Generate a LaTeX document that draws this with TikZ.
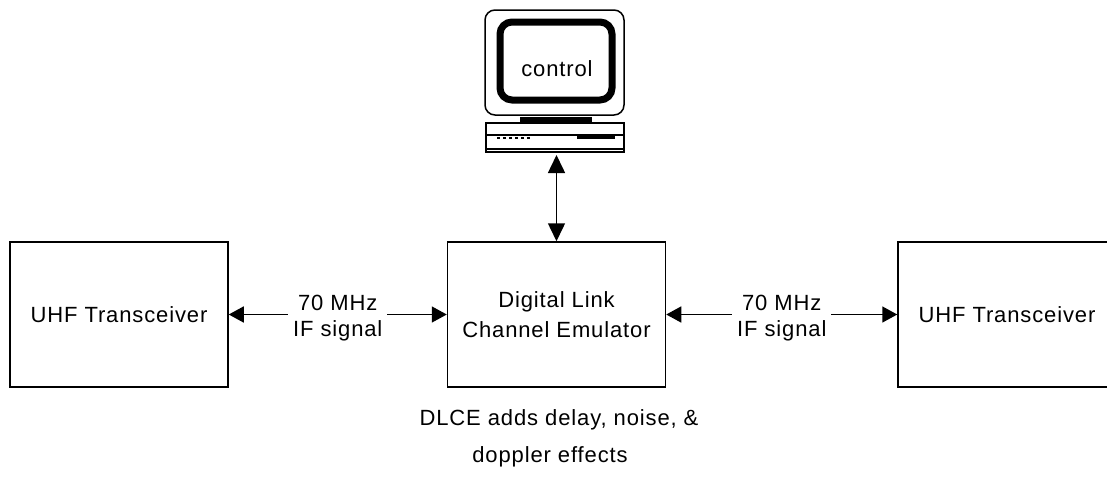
\documentclass[tikz,border=0pt]{standalone}
\usepackage{fontspec}
\setmainfont{Liberation Sans}[LetterSpace=4]
\usetikzlibrary{arrows.meta}
\begin{document}
\begin{tikzpicture}[x=1pt,y=-1pt,
  blockbox/.style={draw, line width=1.5pt, minimum width=218pt, minimum height=145pt,
    inner sep=0pt, align=center, font=\fontsize{22}{30}\selectfont},
  link/.style={line width=1.5pt,
    {Triangle[length=15pt,width=16pt]}-{Triangle[length=15pt,width=16pt]}},
  ctrllink/.style={line width=1.5pt,
    {Triangle[length=18pt,width=17pt]}-{Triangle[length=18pt,width=17pt]}},
  iflabel/.style={fill=white, inner xsep=5pt, inner ysep=1pt, align=center,
    font=\fontsize{22}{26}\selectfont},
  caption/.style={anchor=base, font=\fontsize{22}{25}\selectfont},
  outline/.style={line width=1.5pt}]
\useasboundingbox (0,0) rectangle (1107,477);
\begin{scope}
\clip (0,0) rectangle (1107,477);

% computer: monitor, screen, stand and base unit
\draw[outline, rounded corners=10pt] (485,10) rectangle (624,115);
\draw[line width=7pt, rounded corners=12pt] (500,22) rectangle (612,100);
\fill (520,117) rectangle (592,123);
\draw[outline] (486,123) rectangle (624,152);
\draw[line width=1.2pt] (486,135) -- (624,135);
\draw[line width=1.2pt] (486,149) -- (624,149);
\draw[line width=2.5pt, dash pattern=on 3pt off 3pt] (497,138) -- (533,138);
\draw[line width=3pt] (577,137.5) -- (615,137.5);
\node[font=\fontsize{22}{25}\selectfont] (ctrl) at (557,69) {control};
\coordinate (pcbase) at (556.5,155);

% blocks
\node[blockbox] (uhfl) at (119,314.5) {UHF Transceiver};
\node[blockbox] (dlce) at (556.5,314.5) {Digital Link\\Channel Emulator};
\node[blockbox] (uhfr) at (1007,314.5) {UHF Transceiver};

% links
\draw[ctrllink] (pcbase) -- (dlce.north);
\draw[link] (uhfl.east) -- (dlce.west)
  node[iflabel, midway, yshift=-4pt] (ifl) {70 MHz\\IF signal};
\draw[link] (dlce.east) -- (uhfr.west)
  node[iflabel, midway, yshift=-4pt] (ifr) {70 MHz\\IF signal};

% caption
\node[caption] (cap1) at (559,425) {DLCE adds delay, noise, \&};
\node[caption] (cap2) at (550,462) {doppler effects};
\end{scope}
\end{tikzpicture}
\end{document}
